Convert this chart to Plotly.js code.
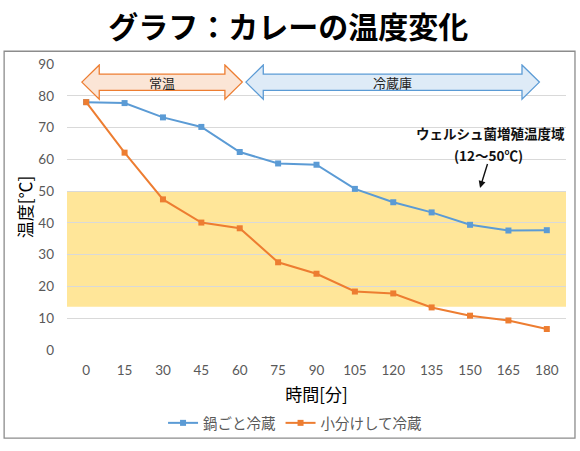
<!DOCTYPE html>
<html>
<head>
<meta charset="utf-8">
<script src="https://cdn.plot.ly/plotly-3.0.1.min.js"></script>
<style>html,body{margin:0;padding:0;background:#fff;}#chart{width:580px;height:451px;}</style>
</head>
<body>
<div id="chart"></div>
<script>
// ---- data ----
const minutes = [0, 15, 30, 45, 60, 75, 90, 105, 120, 135, 150, 165, 180];
const potCooling = [78.0, 77.7, 73.2, 70.2, 62.3, 58.7, 58.3, 50.7, 46.5, 43.3, 39.4, 37.6, 37.7];
const portionCooling = [78.0, 62.1, 47.4, 40.1, 38.3, 27.6, 24.0, 18.4, 17.8, 13.4, 10.8, 9.3, 6.6];
const seriesNames = ['鍋ごと冷蔵', '小分けして冷蔵'];
const yTicks = [0, 10, 20, 30, 40, 50, 60, 70, 80, 90];
const bandRange = [13.6, 50];
const phaseLabels = ['常温', '冷蔵庫'];
const phaseStart = [-1.7, 62.4];
const phaseEnd = [61.0, 177.1];
const zoneLabelLines = ['ウェルシュ菌増殖温度域', '(12～50℃)'];

const FONT = 'Lato, "Noto Sans CJK JP", sans-serif';
const JP = '"Noto Sans CJK JP", Lato, sans-serif';

// arrow shape builder (double-headed block arrow)
function blockArrow(x0, x1, fill, line) {
  const head = 6.8, yc = 84.3, yo1 = 89.7, yo0 = 78.9, yb1 = 86.8, yb0 = 81.7;
  const h0 = x0 + head, h1 = x1 - head;
  const p = `M ${x0},${yc} L ${h0},${yo1} L ${h0},${yb1} L ${h1},${yb1} L ${h1},${yo1} L ${x1},${yc} L ${h1},${yo0} L ${h1},${yb0} L ${h0},${yb0} L ${h0},${yo0} Z`;
  return {type: 'path', xref: 'x', yref: 'y', path: p, fillcolor: fill, line: {color: line, width: 1.3}, layer: 'above'};
}

const traces = [
  {x: minutes, y: potCooling, name: seriesNames[0], type: 'scatter', mode: 'lines+markers',
   line: {color: '#5B9BD5', width: 2}, marker: {symbol: 'square', size: 6, color: '#5B9BD5'}},
  {x: minutes, y: portionCooling, name: seriesNames[1], type: 'scatter', mode: 'lines+markers',
   line: {color: '#ED7D31', width: 2}, marker: {symbol: 'square', size: 6, color: '#ED7D31'}}
];

const shapes = [
  {type: 'rect', xref: 'paper', yref: 'y', x0: 0, x1: 1, y0: bandRange[0], y1: bandRange[1],
   fillcolor: '#FFE699', line: {width: 0}, layer: 'below'},
  {type: 'rect', xref: 'paper', yref: 'paper', x0: -0.126, x1: 1.018, y0: -0.308, y1: 1.0445,
   fillcolor: 'rgba(0,0,0,0)', line: {color: '#8c8c8c', width: 1.3}, layer: 'above'},
  blockArrow(phaseStart[0], phaseEnd[0], '#FBE5D6', '#ED7D31'),
  blockArrow(phaseStart[1], phaseEnd[1], '#DEEBF7', '#5B9BD5')
];

const annotations = [
  {x: (phaseStart[0] + phaseEnd[0]) / 2, y: 84.3, xref: 'x', yref: 'y', text: phaseLabels[0], showarrow: false,
   font: {family: JP, size: 13, color: '#222'}},
  {x: (phaseStart[1] + phaseEnd[1]) / 2, y: 84.3, xref: 'x', yref: 'y', text: phaseLabels[1], showarrow: false,
   font: {family: JP, size: 13, color: '#222'}},
  {x: 157.8, y: 64.9, xref: 'x', yref: 'y', yanchor: 'bottom', text: zoneLabelLines[0], showarrow: false,
   borderpad: 0, font: {family: JP, size: 13.5, color: '#111', weight: 'bold'}},
  {x: 157.3, y: 64.9, xref: 'x', yref: 'y', yanchor: 'top', text: zoneLabelLines[1], showarrow: false,
   borderpad: 0, font: {family: JP, size: 13.5, color: '#111', weight: 'bold'}},
  {x: 153.9, y: 51.0, xref: 'x', yref: 'y', ax: 157.0, ay: 59.0, axref: 'x', ayref: 'y', text: '',
   showarrow: true, arrowhead: 2, arrowsize: 1, arrowwidth: 1.4, arrowcolor: '#111'}
];

const layout = {
  width: 580, height: 451,
  margin: {l: 67, r: 14, t: 64, b: 95},
  paper_bgcolor: '#fff', plot_bgcolor: '#fff',
  font: {family: FONT, color: '#595959'},
  title: {text: 'グラフ：カレーの温度変化', x: 0.497, xanchor: 'center', y: 0.94, yanchor: 'middle',
          font: {family: JP, size: 30, color: '#000', weight: 'bold'}},
  xaxis: {range: [-7.5, 187.5], tickvals: minutes, ticktext: minutes.map(String), automargin: false,
          showgrid: false, zeroline: false, showline: false, ticks: '', ticklabelstandoff: 10,
          tickfont: {family: FONT, size: 13.5, color: '#595959'}, fixedrange: true,
          title: {text: '時間[分]', standoff: 12, font: {family: JP, size: 17, color: '#000'}}},
  yaxis: {range: [0, 90], tickvals: yTicks, showgrid: true, gridcolor: '#D9D9D9', gridwidth: 1, automargin: false,
          zeroline: false, showline: false, ticks: '', ticklabelstandoff: 12,
          tickfont: {family: FONT, size: 13.5, color: '#595959'}, fixedrange: true,
          title: {text: '温度[℃]', standoff: 1, font: {family: JP, size: 17, color: '#000'}}},
  legend: {orientation: 'h', x: 0.457, xanchor: 'center', y: -0.255, yanchor: 'middle',
           font: {family: JP, size: 14.5, color: '#595959'}, bgcolor: 'rgba(0,0,0,0)'},
  shapes: shapes,
  annotations: annotations,
  showlegend: true
};

Plotly.newPlot('chart', traces, layout, {displayModeBar: false, staticPlot: true});
</script>
</body>
</html>
